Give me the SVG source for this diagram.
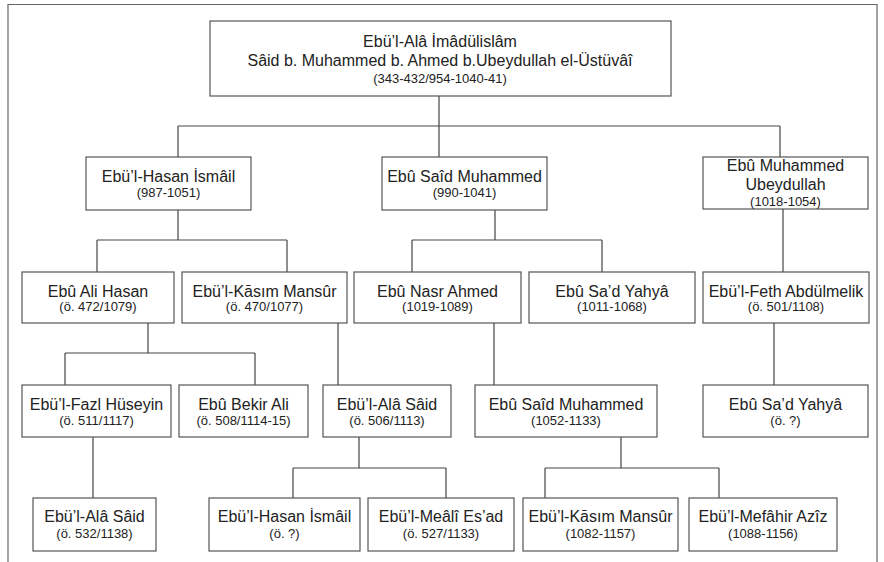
<svg xmlns="http://www.w3.org/2000/svg" width="884" height="562" viewBox="0 0 884 562">
<style>
.box{fill:#fff;stroke:#555;stroke-width:1.2}
.ln{fill:none;stroke:#444;stroke-width:1.2}
.frame{fill:none;stroke:#666;stroke-width:1.2}
.n{font-family:"Liberation Sans","DejaVu Sans",sans-serif;font-size:16px;fill:#222;text-anchor:middle}
.d{font-family:"Liberation Sans","DejaVu Sans",sans-serif;font-size:13px;fill:#222;text-anchor:middle}
</style>
<rect width="884" height="562" fill="#fff"/>
<path class="frame" d="M8,568 V4.5 H877 V568"/>
<g id="connectors">
<path class="ln" d="M439,96 V126 M178,126 H780 M178,126 V157 M439,126 V157 M780,126 V157"/>
<path class="ln" d="M178,210 V240 M97,240 H287 M97,240 V272 M287,240 V272"/>
<path class="ln" d="M495,210 V240 M412,240 H602 M412,240 V272 M602,240 V272"/>
<path class="ln" d="M783,209 V272"/>
<path class="ln" d="M148,323 V353 M65,353 H255 M65,353 V385 M255,353 V385"/>
<path class="ln" d="M338,323 V385 M494,323 V385 M774,323 V385"/>
<path class="ln" d="M93,437 V498"/>
<path class="ln" d="M359,437 V468 M293,468 H446 M293,468 V498 M446,468 V498"/>
<path class="ln" d="M621,437 V468 M545,468 H719 M545,468 V498 M719,468 V498"/>
</g>
<g id="root">
<rect class="box" x="210" y="21" width="461" height="75"/>
<text class="n" x="440" y="47">Ebü’l-Alâ İmâdülislâm</text>
<text class="n" x="440" y="66">Sâid b. Muhammed b. Ahmed b.Ubeydullah el-Üstüvâî</text>
<text class="d" x="440" y="83">(343-432/954-1040-41)</text>
</g>
<g id="hasan-ismail">
<rect class="box" x="86" y="157" width="165" height="53"/>
<text class="n" x="168.5" y="182">Ebü’l-Hasan İsmâil</text>
<text class="d" x="168.5" y="197">(987-1051)</text>
</g>
<g id="said-muhammed">
<rect class="box" x="382" y="157" width="165" height="53"/>
<text class="n" x="464.5" y="182">Ebû Saîd Muhammed</text>
<text class="d" x="464.5" y="197">(990-1041)</text>
</g>
<g id="muhammed-ubeydullah">
<rect class="box" x="703" y="157" width="165" height="52"/>
<text class="n" x="785.5" y="171">Ebû Muhammed</text>
<text class="n" x="785.5" y="190">Ubeydullah</text>
<text class="d" x="785.5" y="206">(1018-1054)</text>
</g>
<g id="ali-hasan">
<rect class="box" x="22" y="272" width="152" height="51"/>
<text class="n" x="98" y="297">Ebû Ali Hasan</text>
<text class="d" x="98" y="311">(ö. 472/1079)</text>
</g>
<g id="kasim-mansur-1">
<rect class="box" x="182" y="272" width="165" height="51"/>
<text class="n" x="264.5" y="297">Ebü’l-Kāsım Mansûr</text>
<text class="d" x="264.5" y="311">(ö. 470/1077)</text>
</g>
<g id="nasr-ahmed">
<rect class="box" x="354" y="272" width="167" height="51"/>
<text class="n" x="437.5" y="297">Ebû Nasr Ahmed</text>
<text class="d" x="437.5" y="311">(1019-1089)</text>
</g>
<g id="sad-yahya-1">
<rect class="box" x="529" y="272" width="166" height="51"/>
<text class="n" x="612" y="297">Ebû Sa’d Yahyâ</text>
<text class="d" x="612" y="311">(1011-1068)</text>
</g>
<g id="feth-abdulmelik">
<rect class="box" x="703" y="272" width="166" height="51"/>
<text class="n" x="786" y="297">Ebü’l-Feth Abdülmelik</text>
<text class="d" x="786" y="311">(ö. 501/1108)</text>
</g>
<g id="fazl-huseyin">
<rect class="box" x="22" y="385" width="149" height="52"/>
<text class="n" x="96.5" y="410">Ebü’l-Fazl Hüseyin</text>
<text class="d" x="96.5" y="425">(ö. 511/1117)</text>
</g>
<g id="bekir-ali">
<rect class="box" x="179" y="385" width="129" height="52"/>
<text class="n" x="243.5" y="410">Ebû Bekir Ali</text>
<text class="d" x="243.5" y="425">(ö. 508/1114-15)</text>
</g>
<g id="ala-said-1">
<rect class="box" x="323" y="385" width="128" height="52"/>
<text class="n" x="387" y="410">Ebü’l-Alâ Sâid</text>
<text class="d" x="387" y="425">(ö. 506/1113)</text>
</g>
<g id="said-muhammed-2">
<rect class="box" x="475" y="385" width="182" height="52"/>
<text class="n" x="566" y="410">Ebû Saîd Muhammed</text>
<text class="d" x="566" y="425">(1052-1133)</text>
</g>
<g id="sad-yahya-2">
<rect class="box" x="703" y="385" width="165" height="52"/>
<text class="n" x="785.5" y="410">Ebû Sa’d Yahyâ</text>
<text class="d" x="785.5" y="425">(ö. ?)</text>
</g>
<g id="ala-said-2">
<rect class="box" x="33" y="498" width="123" height="53"/>
<text class="n" x="94.5" y="522">Ebü’l-Alâ Sâid</text>
<text class="d" x="94.5" y="538">(ö. 532/1138)</text>
</g>
<g id="hasan-ismail-2">
<rect class="box" x="209" y="498" width="151" height="53"/>
<text class="n" x="284.5" y="522">Ebü’l-Hasan İsmâil</text>
<text class="d" x="284.5" y="538">(ö. ?)</text>
</g>
<g id="meali-esad">
<rect class="box" x="368" y="498" width="146" height="53"/>
<text class="n" x="441" y="522">Ebü’l-Meâlî Es’ad</text>
<text class="d" x="441" y="538">(ö. 527/1133)</text>
</g>
<g id="kasim-mansur-2">
<rect class="box" x="523" y="498" width="155" height="53"/>
<text class="n" x="600.5" y="522">Ebü’l-Kāsım Mansûr</text>
<text class="d" x="600.5" y="538">(1082-1157)</text>
</g>
<g id="mefahir-aziz">
<rect class="box" x="689" y="498" width="148" height="53"/>
<text class="n" x="763" y="522">Ebü’l-Mefâhir Azîz</text>
<text class="d" x="763" y="538">(1088-1156)</text>
</g>
</svg>
